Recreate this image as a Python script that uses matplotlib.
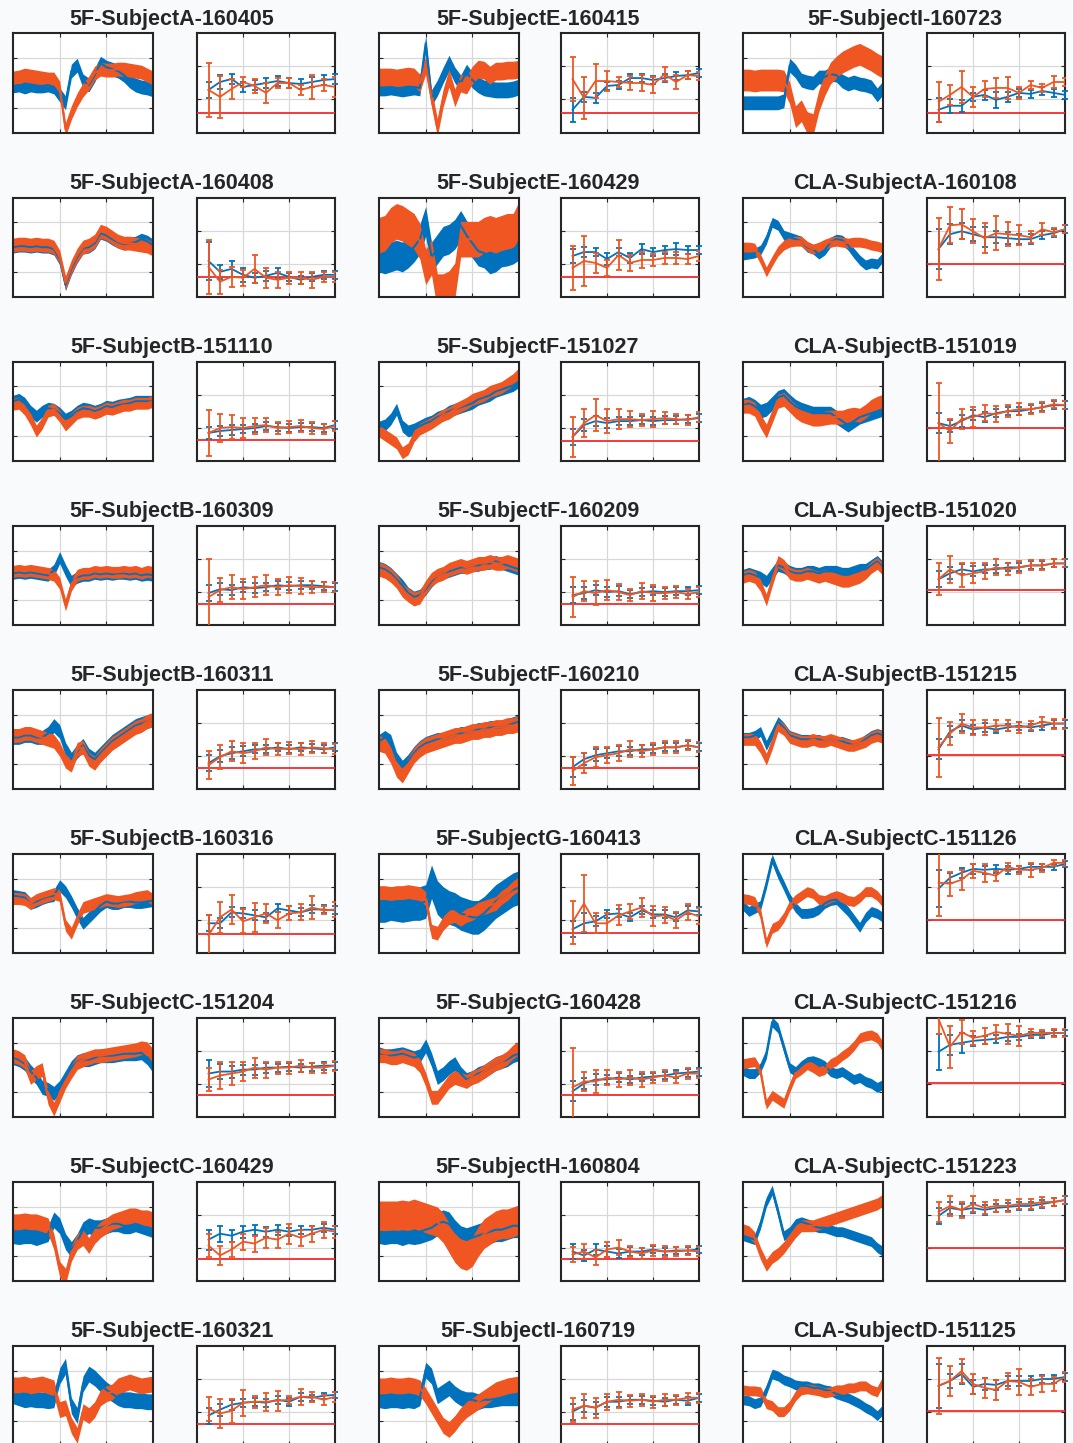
import numpy as np
import matplotlib
matplotlib.use("Agg")
import matplotlib.pyplot as plt

# panel titles, row by row (3 subjects per row)
titles = [
    "5F-SubjectA-160405", "5F-SubjectE-160415", "5F-SubjectI-160723",
    "5F-SubjectA-160408", "5F-SubjectE-160429", "CLA-SubjectA-160108",
    "5F-SubjectB-151110", "5F-SubjectF-151027", "CLA-SubjectB-151019",
    "5F-SubjectB-160309", "5F-SubjectF-160209", "CLA-SubjectB-151020",
    "5F-SubjectB-160311", "5F-SubjectF-160210", "CLA-SubjectB-151215",
    "5F-SubjectB-160316", "5F-SubjectG-160413", "CLA-SubjectC-151126",
    "5F-SubjectC-151204", "5F-SubjectG-160428", "CLA-SubjectC-151216",
    "5F-SubjectC-160429", "5F-SubjectH-160804", "CLA-SubjectC-151223",
    "5F-SubjectE-160321", "5F-SubjectI-160719", "CLA-SubjectD-151125",
]

# left panels: traces (% of panel height) and half-width of the noisy band
trace_blue = [
    [47,48,46,48,47,47,48,46,38,30,62,68,52,48,58,70,66,64,62,58,52,48,46,45,43],
    [45,45,46,45,44,45,46,45,90,35,45,58,70,58,50,61,53,48,45,44,43,43,43,44,46],
    [30,30,30,30,30,30,30,32,68,62,53,51,50,56,56,59,58,52,49,51,49,48,46,38,45],
    [50,51,51,50,51,50,50,48,38,12,28,40,49,50,54,64,62,58,55,53,54,55,58,56,52],
    [40,38,40,42,40,44,50,58,76,40,48,56,58,63,72,62,54,46,44,38,40,45,46,48,52],
    [42,43,44,47,58,75,72,62,60,58,56,50,48,43,47,55,58,57,52,44,37,32,34,33,40],
    [60,62,58,50,45,50,53,52,48,42,45,50,53,52,50,52,55,54,56,57,58,60,60,60,60],
    [34,36,42,52,35,30,32,35,38,40,44,46,50,52,54,56,58,62,64,66,70,72,74,76,80],
    [56,58,55,50,52,58,64,66,60,55,52,50,48,48,48,48,44,40,36,40,44,46,48,50,52],
    [52,53,52,53,52,51,50,55,68,55,44,48,50,50,52,51,52,51,52,52,51,52,50,51,50],
    [58,56,52,46,40,32,28,30,36,44,50,52,54,56,58,58,60,60,62,62,64,62,60,58,56],
    [50,52,50,48,44,52,60,58,54,52,52,54,54,52,54,54,54,52,52,54,56,56,60,64,58],
    [52,52,54,54,52,52,56,64,58,40,30,38,44,34,30,36,42,48,52,56,60,64,66,68,70],
    [48,52,48,30,22,28,36,42,46,48,50,50,52,54,56,56,58,60,60,62,62,62,64,66,68],
    [52,52,54,58,44,56,68,62,54,52,50,50,50,50,48,50,48,48,46,44,46,50,54,56,54],
    [58,57,56,50,52,55,57,58,68,62,52,40,30,36,42,48,52,50,50,52,52,51,51,52,53],
    [48,48,50,49,48,49,50,50,52,72,56,50,46,44,40,38,36,36,40,46,52,56,60,64,66],
    [48,42,45,48,70,95,80,68,55,46,40,40,41,44,50,53,54,48,42,34,26,36,42,40,36],
    [60,58,54,46,40,30,28,24,30,40,50,56,58,58,60,62,62,62,63,64,64,64,65,60,52],
    [64,62,62,63,64,62,60,62,72,58,40,44,50,54,44,38,40,44,46,50,54,56,58,62,64],
    [47,44,44,50,64,96,90,70,50,46,52,56,57,55,52,46,44,46,42,38,40,36,34,30,33],
    [46,45,46,46,44,46,48,62,56,40,32,40,52,56,54,54,56,58,58,56,56,58,56,54,52],
    [50,49,50,50,48,50,49,50,52,54,58,60,58,50,44,42,44,46,48,50,52,52,54,56,56],
    [46,44,42,58,80,92,70,46,50,58,60,58,56,54,54,52,50,50,48,46,44,42,40,34,30],
    [50,48,46,47,46,46,45,46,70,80,40,30,62,72,68,62,56,52,48,46,46,45,45,44,44],
    [46,45,46,46,45,46,45,48,76,70,50,54,58,52,48,46,46,44,46,46,47,48,48,48,48],
    [46,45,42,44,56,72,70,66,64,61,60,60,58,58,56,55,52,50,48,45,42,38,35,30,36],
]
trace_orange = [
    [55,56,58,57,56,55,54,54,45,3,20,33,43,50,60,64,63,63,64,64,63,62,61,58,55],
    [56,56,56,55,56,57,56,50,68,35,5,35,55,35,50,48,58,64,63,58,62,62,63,63,64],
    [53,53,52,53,53,53,53,52,40,16,22,10,8,32,48,60,66,71,74,77,79,76,73,69,66],
    [52,53,53,52,53,52,52,50,40,14,30,42,50,52,56,66,64,60,56,54,54,53,52,51,48],
    [62,64,72,76,74,70,66,56,30,40,5,5,8,16,58,58,58,58,62,64,62,64,66,66,78],
    [50,50,49,38,25,36,46,52,55,56,56,51,48,50,53,55,56,55,54,55,55,54,52,51,49],
    [57,58,52,42,30,38,50,52,45,36,42,48,50,50,48,50,53,52,54,56,56,58,58,58,60],
    [30,26,22,18,8,12,25,32,35,38,42,46,48,52,55,58,62,64,66,70,72,74,78,82,88],
    [55,55,52,40,30,45,60,62,56,50,46,44,42,42,43,44,44,44,46,47,46,50,55,58,60],
    [54,55,54,55,54,53,52,50,42,20,40,50,52,52,54,53,54,53,53,54,53,54,52,54,53],
    [56,54,50,44,35,30,26,28,38,46,50,52,56,58,60,58,60,62,62,64,62,62,64,62,60],
    [48,50,48,40,25,45,64,60,52,50,50,52,50,48,50,48,46,44,44,46,48,52,58,62,56],
    [54,54,56,56,54,52,50,48,40,28,24,40,42,30,26,34,40,46,50,54,58,62,64,68,70],
    [46,44,34,20,14,24,34,40,44,46,48,50,52,54,54,56,58,58,60,60,62,62,64,64,66],
    [50,50,50,42,30,46,64,60,52,50,48,48,50,48,48,50,48,46,44,44,46,48,52,54,52],
    [55,55,54,50,54,56,58,60,58,28,20,34,46,48,50,52,54,53,52,53,54,56,57,58,54],
    [61,61,60,61,61,62,61,60,55,22,20,30,36,38,34,38,40,44,46,48,50,56,60,66,70],
    [55,54,52,40,10,25,28,36,48,54,58,62,60,54,53,56,58,56,53,52,56,62,62,58,51],
    [62,60,56,40,45,48,20,8,22,36,46,55,58,60,62,62,63,64,65,66,67,68,70,69,62],
    [62,62,60,60,62,60,58,52,38,20,20,28,36,40,38,36,40,42,46,50,54,56,60,66,70],
    [54,55,56,46,13,22,18,14,30,44,48,53,50,46,48,54,57,62,66,72,80,82,83,80,71],
    [60,60,61,60,60,58,56,40,12,5,28,40,44,36,46,52,56,60,62,64,66,66,64,64,62],
    [66,66,66,66,67,66,68,66,64,62,60,54,44,34,28,26,30,40,48,52,56,58,58,60,62],
    [52,50,44,28,16,24,28,34,42,50,56,56,56,58,60,62,64,66,68,70,72,74,76,78,82],
    [61,61,62,60,61,62,60,58,36,38,20,10,34,30,36,48,52,54,60,62,64,62,60,61,62],
    [60,60,61,60,60,61,60,58,50,40,30,20,16,22,30,36,40,44,48,52,56,58,60,61,62],
    [56,55,55,54,42,40,34,34,40,50,56,57,56,55,53,54,56,56,58,58,60,60,56,54,65],
]
band_blue = [7,8,7,6,15,5,6,6,7,6,6,6,7,7,5,6,17,5,7,7,5,8,12,5,8,8,5]
band_orange = [7,9,11,7,18,5,6,6,7,6,7,6,7,8,6,6,7,5,7,7,5,8,15,6,8,8,5]

# right panels: 12 session means (% of panel height) with error bars
mean_blue = [
    [43,51,54,46,48,50,52,50,49,51,53,54],
    [23,36,35,47,48,55,55,53,55,57,58,60],
    [23,27,27,36,38,33,36,40,39,42,40,38],
    [36,25,28,22,19,21,24,20,17,20,22,22],
    [41,45,45,38,45,39,48,45,47,48,47,47],
    [48,63,66,63,60,60,59,58,58,62,64,68],
    [28,30,31,32,33,35,34,33,34,34,33,36],
    [24,36,40,38,40,40,41,40,41,41,42,43],
    [38,35,40,46,44,48,50,50,52,54,56,56],
    [32,36,35,38,37,38,40,39,40,40,39,38],
    [30,32,35,33,34,31,33,34,33,34,34,35],
    [46,52,56,54,56,56,58,58,60,60,62,62],
    [26,33,36,38,40,40,42,40,42,41,40,42],
    [22,30,34,36,38,38,40,40,42,42,44,42],
    [40,58,64,60,62,60,62,64,62,64,66,66],
    [30,30,41,40,38,36,45,43,41,44,44,43],
    [24,30,32,39,40,36,43,39,39,36,43,42],
    [65,76,81,85,84,85,84,85,87,87,87,90],
    [44,46,46,48,48,50,50,51,50,51,52,52],
    [26,34,38,38,40,38,40,41,42,44,45,46],
    [66,73,75,77,78,79,81,81,83,83,85,85],
    [42,48,46,50,52,50,52,50,52,52,54,52],
    [30,26,32,30,28,30,30,32,30,31,31,32],
    [66,74,72,74,72,74,75,76,76,78,80,82],
    [30,36,41,43,44,43,46,44,49,48,50,51],
    [34,40,38,44,44,46,46,45,44,46,45,48],
    [60,65,72,59,62,61,65,65,65,67,67,69],
]
err_blue = [
    [8,7,5,5,5,5,5,5,5,5,5,5],
    [12,5,5,4,4,4,4,4,4,4,4,4],
    [12,7,6,4,5,8,5,4,4,4,4,4],
    [19,7,8,7,5,5,5,4,4,4,4,4],
    [7,5,4,6,4,5,5,4,4,6,4,4],
    [20,10,8,7,10,6,6,5,5,4,4,4],
    [6,5,5,4,4,4,4,4,4,4,4,4],
    [8,6,5,5,4,4,4,4,4,4,4,4],
    [10,6,6,5,5,4,4,4,4,4,4,4],
    [8,6,5,5,5,4,4,4,4,4,4,4],
    [8,6,5,5,5,4,4,4,4,4,4,4],
    [8,6,5,5,4,4,4,4,4,4,4,4],
    [8,6,6,5,4,4,4,4,4,4,4,4],
    [10,6,6,5,5,4,4,4,4,4,4,4],
    [10,6,6,5,5,4,4,4,4,4,4,4],
    [8,5,5,5,5,4,4,4,4,4,4,4],
    [8,10,5,4,4,4,4,4,4,4,4,4],
    [19,5,5,5,4,4,4,3,3,3,3,3],
    [14,8,6,5,5,5,4,4,4,4,4,4],
    [10,6,6,5,5,4,4,4,4,4,4,4],
    [18,10,10,5,4,4,4,3,3,3,3,3],
    [10,8,6,6,5,5,5,4,4,4,4,4],
    [8,6,6,6,5,5,4,4,4,4,4,4],
    [8,6,6,5,5,4,4,4,4,4,4,4],
    [8,6,5,4,4,4,4,4,4,3,3,3],
    [8,6,6,5,5,4,4,4,4,4,4,4],
    [22,7,10,7,6,5,5,5,5,4,4,4],
]
mean_orange = [
    [43,36,44,51,47,40,50,50,43,46,48,46],
    [54,35,52,52,51,50,50,48,59,51,58,57],
    [31,38,46,36,44,45,45,40,48,45,51,51],
    [30,15,20,19,28,19,17,19,19,17,20,20],
    [29,36,34,29,42,34,37,37,39,39,38,41],
    [48,72,73,66,59,64,63,62,60,68,65,68],
    [28,33,34,33,35,36,33,34,35,33,32,35],
    [24,38,46,40,42,42,41,42,43,42,41,44],
    [38,30,42,44,48,47,50,52,52,54,57,56],
    [28,35,38,36,38,40,38,40,39,38,38,38],
    [28,34,32,35,33,30,34,32,32,33,31,33],
    [46,56,50,52,54,58,56,58,60,60,62,62],
    [24,32,38,36,38,42,40,41,40,42,41,40],
    [18,26,32,34,36,40,38,40,42,42,44,42],
    [42,56,66,62,62,64,64,62,64,68,66,66],
    [18,36,44,32,36,40,33,40,41,46,43,44],
    [31,50,30,30,38,42,46,37,38,33,41,37],
    [71,70,74,83,81,78,87,84,84,86,91,91],
    [38,42,44,46,50,48,50,50,52,50,50,52],
    [30,36,36,40,38,40,38,40,42,40,44,44],
    [99,71,86,80,82,86,84,82,85,85,85,85],
    [36,26,32,40,38,44,42,48,44,48,52,50],
    [27,30,24,32,34,30,28,31,30,30,31,30],
    [70,76,72,78,74,76,76,78,78,80,80,82],
    [37,32,35,43,44,44,45,46,49,49,46,49],
    [36,40,38,44,46,45,46,44,46,46,48,48],
    [60,65,75,62,58,56,65,64,59,62,62,69],
]
err_orange = [
    [27,21,10,5,7,10,5,5,5,12,6,10],
    [22,21,17,10,5,7,8,8,7,7,4,4],
    [20,10,16,10,8,10,11,6,4,4,6,4],
    [27,12,10,8,14,10,8,6,6,8,5,5],
    [22,25,10,8,15,8,8,6,6,6,5,5],
    [31,18,15,12,15,17,12,10,6,6,4,4],
    [23,14,12,10,8,7,6,6,6,6,5,5],
    [20,14,16,12,10,8,6,8,6,5,5,5],
    [40,12,10,10,8,8,6,6,5,5,4,4],
    [38,12,12,10,10,10,8,8,8,6,5,5],
    [20,10,12,10,8,6,8,8,6,6,5,5],
    [16,14,12,10,8,8,6,6,5,5,4,4],
    [14,12,10,10,8,8,6,6,6,6,5,5],
    [14,10,10,8,8,8,6,6,6,6,5,5],
    [30,12,10,8,8,6,6,6,5,5,5,5],
    [20,16,15,12,15,10,8,7,8,12,4,8],
    [22,29,10,10,10,8,10,10,8,8,8,8],
    [34,12,10,7,9,5,4,4,7,4,3,3],
    [12,14,12,10,10,8,6,6,6,5,5,5],
    [40,10,12,8,8,8,8,6,6,6,6,5],
    [15,21,12,7,8,7,10,10,4,3,4,4],
    [12,10,8,8,8,10,8,10,8,8,8,6],
    [8,8,8,8,8,6,6,6,6,5,5,5],
    [10,10,8,8,6,6,6,5,5,5,4,4],
    [12,15,12,13,6,9,10,4,8,5,5,5],
    [12,12,10,8,8,6,6,6,6,5,5,5],
    [28,15,12,10,10,10,8,13,8,8,7,5],
]
# level of the red reference line in each right panel
red_level = [19.5,19.5,19.5,19.7,19.7,33,21,20,33,21,21,35,21,21,34,
             19.5,20,33.5,22,22,34,22,22,34,21.5,22,35]

BLUE = "#0072BD"
ORANGE = "#EF5621"
RED = "#F22B2B"
W, H = 1073, 1443

plt.rcParams['font.family'] = ['Liberation Sans', 'DejaVu Sans']
fig = plt.figure(figsize=(W / 100, H / 100), dpi=100)
fig.patch.set_facecolor("#f9fafc")

left_x0 = [13, 379, 743]
right_x0 = [197, 561, 927]
title_xc = [172, 538, 905]


def style_axes(ax, xmax, xticks, yticks):
    ax.set_xlim(0, xmax)
    ax.set_ylim(0, 100)
    ax.set_xticks(xticks)
    ax.set_yticks(yticks)
    ax.grid(True, color="#d8d8d8", lw=0.9)
    ax.set_axisbelow(True)
    ax.tick_params(direction="in", length=3, width=0.8, top=True, right=True,
                   labelleft=False, labelbottom=False, colors="#262626")
    for s in ax.spines.values():
        s.set_linewidth(1.5)
        s.set_color("#262626")


for k in range(27):
    r, c = divmod(k, 3)
    top = 33.5 + 164.1 * r
    bottom = 1 - (top + 99) / H

    ax = fig.add_axes([left_x0[c] / W, bottom, 140 / W, 99 / H])
    xt = np.arange(len(trace_blue[k]))
    for y, w, col in [(trace_blue[k], band_blue[k], BLUE),
                      (trace_orange[k], band_orange[k], ORANGE)]:
        y = np.array(y, dtype=float)
        ax.fill_between(xt, y - w, y + w, color=col, lw=0)
        ax.plot(xt, y, color=col, lw=1.5)
    style_axes(ax, 24, [8, 16], [25, 75])

    ax2 = fig.add_axes([right_x0[c] / W, bottom, 138 / W, 99 / H])
    xs = np.arange(1, 13)
    ax2.axhline(red_level[k], color=RED, lw=1.3, zorder=3)
    ax2.errorbar(xs, mean_blue[k], yerr=err_blue[k], color=BLUE, lw=1.3,
                 elinewidth=1.3, capsize=2.2, capthick=1.3, zorder=4, clip_on=False)
    ax2.errorbar(xs, mean_orange[k], yerr=err_orange[k], color=ORANGE, lw=1.3,
                 elinewidth=1.3, capsize=2.2, capthick=1.3, zorder=5, clip_on=True)
    style_axes(ax2, 12, [4, 8], [100 / 3, 200 / 3])

    fig.text(title_xc[c] / W, 1 - (top - 14.5) / H, titles[k], ha="center",
             va="center", fontsize=15.5, fontweight="bold", color="#262626")

fig.savefig("out.png", dpi=100, facecolor=fig.get_facecolor())
